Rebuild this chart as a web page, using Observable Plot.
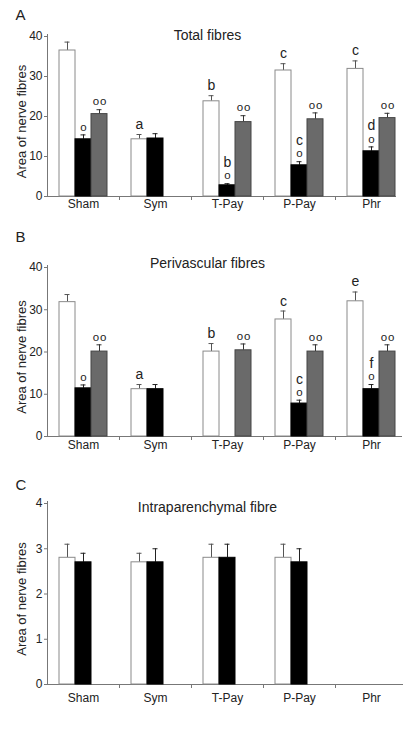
<!DOCTYPE html>
<html>
<head>
<meta charset="utf-8">
<script src="https://cdn.jsdelivr.net/npm/d3@7"></script>
<script src="https://cdn.jsdelivr.net/npm/@observablehq/plot@0.6"></script>
<style>
  html, body { margin: 0; padding: 0; background: #fff; }
  #chart svg { display: block; }
</style>
</head>
<body>
<div id="chart"></div>
<script>
// ---- data ----
const groups = ["Sham", "Sym", "T-Pay", "P-Pay", "Phr"];
const seriesNames = ["white", "black", "gray"];

// Panel A: Total fibres
const totalWhite = [36.5, 14.3, 23.8, 31.5, 31.9];
const totalWhiteErr = [2.1, 1.2, 1.4, 1.7, 2.0];
const totalBlack = [14.3, 14.5, 2.8, 7.8, 11.3];
const totalBlackErr = [1.1, 1.2, 0.4, 0.9, 1.1];
const totalGray = [20.6, null, 18.6, 19.3, 19.6];
const totalGrayErr = [1.1, null, 1.6, 1.6, 1.2];
const totalWhiteLetters = ["", "a", "b", "c", "c"];
const totalBlackLetters = ["", "", "b", "c", "d"];
const totalBlackCircles = [1, 0, 1, 1, 1];
const totalGrayCircles = [2, 0, 2, 2, 2];

// Panel B: Perivascular fibres
const periWhite = [31.8, 11.2, 20.1, 27.7, 32.0];
const periWhiteErr = [1.8, 1.1, 1.9, 2.0, 2.2];
const periBlack = [11.4, 11.2, null, 7.8, 11.2];
const periBlackErr = [0.8, 1.1, null, 0.8, 1.1];
const periGray = [20.1, null, 20.4, 20.1, 20.1];
const periGrayErr = [1.6, null, 1.5, 1.6, 1.6];
const periWhiteLetters = ["", "a", "b", "c", "e"];
const periBlackLetters = ["", "", "", "c", "f"];
const periBlackCircles = [1, 0, 0, 1, 1];
const periGrayCircles = [2, 0, 2, 2, 2];

// Panel C: Intraparenchymal fibre
const intraWhite = [2.8, 2.7, 2.8, 2.8, null];
const intraWhiteErr = [0.3, 0.2, 0.3, 0.3, null];
const intraBlack = [2.7, 2.7, 2.8, 2.7, null];
const intraBlackErr = [0.2, 0.3, 0.3, 0.3, null];

const ticksAB = [0, 10, 20, 30, 40];
const ticksC = [0, 1, 2, 3, 4];

// ---- build tables ----
function rows(series, values, errs, letters, circles) {
  return groups.map((g, i) => ({
    group: g, series, value: values[i], err: errs[i],
    letter: letters ? letters[i] : "", circles: circles ? circles[i] : 0
  })).filter(d => d.value != null);
}

const style = {
  white: {fill: "#ffffff", stroke: "#8a8a8a", err: "#555"},
  black: {fill: "#000000", stroke: "#000000", err: "#222"},
  gray:  {fill: "#6a6a6a", stroke: "#454545", err: "#333"}
};
const BAND = 72, BW = 16, PAD = 12;

function seriesMarks(data, s) {
  const k = seriesNames.indexOf(s);
  const st = style[s];
  const dxc = -BAND / 2 + PAD + BW / 2 + BW * k;
  const top = d => d.value + d.err;
  return [
    Plot.ruleX(data, {x: "group", y1: "value", y2: top, dx: dxc, stroke: st.err, strokeWidth: 1}),
    Plot.tickY(data, {x: "group", y: top, stroke: st.err, strokeWidth: 1,
      insetLeft: PAD + BW * k + BW / 2 - 2.5, insetRight: BAND - (PAD + BW * k + BW / 2 + 2.5)}),
    Plot.barY(data, {x: "group", y: "value", fill: st.fill, stroke: st.stroke, strokeWidth: 1,
      insetLeft: PAD + BW * k, insetRight: BAND - PAD - BW * (k + 1)}),
    Plot.text(data.filter(d => d.circles > 0), {x: "group", y: top,
      text: d => d.circles === 2 ? "o\u200Ao" : "o", dx: dxc, dy: -8, fontSize: 11.5, fill: "#222", lineAnchor: "middle"}),
    Plot.text(data.filter(d => d.letter && d.circles > 0), {x: "group", y: top,
      text: "letter", dx: dxc, dy: -21, fontSize: 14, fill: "#222", lineAnchor: "middle"}),
    Plot.text(data.filter(d => d.letter && !d.circles), {x: "group", y: top,
      text: "letter", dx: dxc, dy: -10, fontSize: 14, fill: "#222", lineAnchor: "middle"})
  ];
}

function panel(cfg) {
  const marks = [];
  for (const s of seriesNames) if (cfg.data[s]) marks.push(...seriesMarks(cfg.data[s], s));
  return Plot.plot({
    width: 414,
    height: cfg.height,
    marginLeft: 47,
    marginRight: 7,
    marginTop: cfg.marginTop,
    marginBottom: cfg.marginBottom,
    style: {fontFamily: "'Liberation Sans', Arial, sans-serif", fontSize: "12px", color: "#222", background: "#fff"},
    x: {domain: groups, padding: 0},
    y: {domain: [0, cfg.yMax], nice: false},
    marks: [
      // axis lines
      Plot.ruleY([0], {stroke: "#777", insetRight: cfg.axisInsetRight}),
      Plot.ruleX([groups[0]], {dx: -BAND / 2, stroke: "#777", insetTop: -2}),
      Plot.ruleX(groups.slice(1), {x: d => d, y1: 0, y2: 0, dx: -BAND / 2, insetTop: 4, stroke: "#777"}),
      ...marks,
      Plot.axisY({ticks: cfg.yTicks, tickFormat: d => String(d), tickSize: 3, tickPadding: 2, fontSize: 12, stroke: "#777", label: null}),
      Plot.axisX({tickSize: 0, tickPadding: cfg.xPad, fontSize: 12, label: null}),
      Plot.text(["Area of nerve fibres"], {frameAnchor: "left", textAnchor: "middle", lineAnchor: "middle", rotate: -90, dx: -26, dy: 5, fontSize: 13, fill: "#222"}),
      Plot.text([cfg.title], {frameAnchor: "top", textAnchor: "middle", lineAnchor: "middle", dx: -20, dy: cfg.titleDy, fontSize: 14, fill: "#222"}),
      Plot.text([cfg.letter], {frameAnchor: "top-left", textAnchor: "start", lineAnchor: "middle", dx: -32, dy: cfg.letterDy, fontSize: 15, fill: "#222"})
    ]
  });
}

const chart = document.getElementById("chart");

chart.appendChild(panel({
  height: 215, marginTop: 36, marginBottom: 19, yMax: 40, yTicks: ticksAB, xPad: 3, axisInsetRight: 11,
  title: "Total fibres", titleDy: -1, letter: "A", letterDy: -21,
  data: {
    white: rows("white", totalWhite, totalWhiteErr, totalWhiteLetters, null),
    black: rows("black", totalBlack, totalBlackErr, totalBlackLetters, totalBlackCircles),
    gray: rows("gray", totalGray, totalGrayErr, null, totalGrayCircles)
  }
}));

chart.appendChild(panel({
  height: 240, marginTop: 52, marginBottom: 19, yMax: 40, yTicks: ticksAB, xPad: 4, axisInsetRight: 5,
  title: "Perivascular fibres", titleDy: -4, letter: "B", letterDy: -30,
  data: {
    white: rows("white", periWhite, periWhiteErr, periWhiteLetters, null),
    black: rows("black", periBlack, periBlackErr, periBlackLetters, periBlackCircles),
    gray: rows("gray", periGray, periGrayErr, null, periGrayCircles)
  }
}));

chart.appendChild(panel({
  height: 277, marginTop: 48, marginBottom: 48, yMax: 4, yTicks: ticksC, xPad: 9, axisInsetRight: 4,
  title: "Intraparenchymal fibre", titleDy: 4, letter: "C", letterDy: -18,
  data: {
    white: rows("white", intraWhite, intraWhiteErr, null, null),
    black: rows("black", intraBlack, intraBlackErr, null, null)
  }
}));
</script>
</body>
</html>
